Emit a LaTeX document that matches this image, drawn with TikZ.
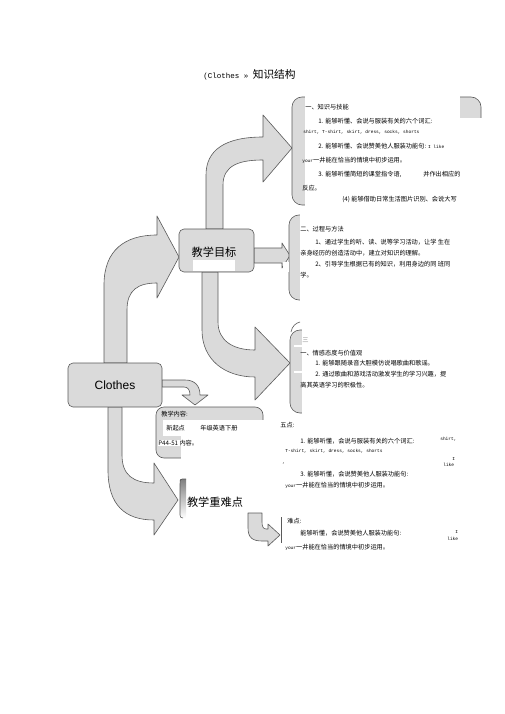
\documentclass[tikz,border=0pt]{standalone}
\usepackage{fontspec}
\setmainfont{Liberation Sans}
\newfontfamily\cjk{Noto Sans CJK SC}
\newfontfamily\mono{Liberation Mono}
\definecolor{shade}{HTML}{DADADA}
\definecolor{edge}{HTML}{5A5A5A}
\newcommand{\en}[1]{{\mono\fontsize{4.5}{5}\selectfont #1}}

\begin{document}
\begin{tikzpicture}[x=1pt, y=-1pt, line width=0.6pt,
  blockarrow/.style = {draw=edge, fill=shade, line join=round},
  panel/.style = {draw=edge, fill=shade, rounded corners=10pt},
  mainbox/.style = {draw=edge, fill=shade, rounded corners=5pt, inner sep=0pt},
  cover/.style = {fill=white},
  small/.style = {inner sep=0pt, anchor=west, font=\cjk\fontsize{6.2}{7}\selectfont},
  eng/.style = {inner sep=0pt, anchor=west, font=\mono\fontsize{4.5}{5}\selectfont},
  big/.style = {font=\cjk\fontsize{11.2}{12}\selectfont}]
\useasboundingbox (0,0) rectangle (505,714);

% title
\node[inner sep=0pt, anchor=west] (title) at (203,75) {{\mono\fontsize{7.5}{8}\selectfont (Clothes » }{\cjk\fontsize{10.7}{11}\selectfont 知识结构}};

% block arrows
\draw[blockarrow] (104,363) -- (104,285) .. controls (104,250) and (125,235) .. (157,235) -- (157,216) -- (179,257) -- (157,298) -- (157,283) .. controls (138,283) and (127,290) .. (127,310) -- (127,363) -- cycle;
\draw[blockarrow] (206,229) -- (206,175) .. controls (206,150) and (225,137) .. (263,137) -- (263,115) -- (292,148) -- (263,182) -- (263,160) .. controls (240,160) and (223,165) .. (223,185) -- (223,229) -- cycle;
\draw[blockarrow] (254,248) -- (282,248) -- (282,243) -- (290,255.5) -- (282,268) -- (282,263) -- (254,263) -- cycle;
\draw[blockarrow] (202,272) -- (202,330) .. controls (202,360) and (225,377) .. (255,377) -- (255,400) -- (290,363) -- (255,327) -- (255,350) .. controls (232,350) and (218,340) .. (218,322) -- (218,272) -- cycle;
\draw[blockarrow] (162,380) -- (185,380) .. controls (195,380) and (200,386) .. (200,395) -- (208,395) -- (195,405) -- (182,395) -- (190,395) .. controls (190,390) and (188,387) .. (184,387) -- (162,387) -- cycle;
\draw[blockarrow] (108,407) -- (108,470) .. controls (108,505) and (125,520) .. (154,520) -- (154,535) -- (178,500) -- (154,463) -- (154,483) .. controls (133,483) and (122,475) .. (122,455) -- (122,407) -- cycle;
\draw[blockarrow] (248,513) -- (248,528) .. controls (248,538) and (253,541) .. (262,541) -- (268,541) -- (268,546) -- (280,535) -- (268,524) -- (268,529) -- (266,529) .. controls (263,529) and (262,526) .. (262,522) -- (262,513) -- cycle;

% main boxes
\node[mainbox, minimum width=94pt, minimum height=44pt] (clothes) at (115,385) {};
\node[font=\fontsize{12}{13}\selectfont] (clothestext) at (clothes) {Clothes};
\node[mainbox, minimum width=75pt, minimum height=43pt] (goals) at (216.5,250.5) {};
\fill[cover] (193,260) rectangle (235,271);
\node[big] (goalstext) at (214,252) {教学目标};

% knowledge panel
\draw[panel] (292,97) rectangle (481,205);
\fill[cover] (305,94) rectangle (460,212);
\fill[cover] (460,118) rectangle (485,212);
\node[small] (k0) at (305,107) {一、知识与技能};
\node[small] (k1) at (318,121) {1. 能够听懂、会说与服装有关的六个词汇:};
\node[eng] (k2) at (303,132) {shirt, T-shirt, skirt, dress, socks, shorts};
\node[small] (k3) at (318,146) {2. 能够听懂、会说赞美他人服装功能句: \en{I like}};
\node[small] (k4) at (302,160) {\en{your}一井能在恰当的情境中初步运用。};
\node[small] (k5) at (318,174) {3. 能够听懂简短的课堂指令语,};
\node[small] (k5b) at (423,174) {并作出相应的};
\node[small] (k6) at (302,188) {反应。};
\node[small] (k7) at (342,199) {(4) 能够借助日常生活图片识别、会说大写};

% method panel
\draw[panel] (289,215) rectangle (470,300);
\fill[cover] (300,212) rectangle (475,305);
\fill[cover] (283,262) rectangle (289,272);
\node[small] (m0) at (300,229) {二、过程与方法};
\node[small] (m1) at (315,242) {1、通过学生的听、读、说等学习活动，让学 生在};
\node[small] (m2) at (300,253) {亲身经历的创造活动中，建立对知识的理解。};
\node[small] (m3) at (315,264) {2、引导学生根据已有的知识，利用身边的同 班同};
\node[small] (m4) at (300,275) {学。};

% attitude panel
\draw[edge] (291,332) .. controls (292,326) and (296,323) .. (300,322);
\draw[panel] (290,330) rectangle (470,413);
\fill[cover] (302,327) rectangle (475,418);
\fill[cover] (294,345) rectangle (302,347);
\fill[cover] (294,371) rectangle (302,373);
\node[small, text=black!45] (a0) at (302,340) {三};
\node[small] (a1) at (300,353) {一、情感态度与价值观};
\node[small] (a2) at (315,363) {1. 能够跟随录音大胆模仿说唱歌曲和歌谣。};
\node[small] (a3) at (315,374) {2. 通过歌曲和游戏活动激发学生的学习兴趣，提};
\node[small] (a4) at (300,385) {高其英语学习的积极性。};

% content panel
\draw[panel, rounded corners=8pt] (156,407) rectangle (263,458);
\fill[cover] (163,420) rectangle (266,436);
\fill[cover] (181,436) rectangle (266,462);
\node[small] (c0) at (161,414) {教学内容:};
\node[small] (c1) at (166,428) {新起点};
\node[small] (c2) at (200,428) {年级英语下册};
\node[small, fill=white] (c3) at (158,443) {P44-51 内容。};

% key and difficult points
\fill[shade] (180,479) rectangle (186,518);
\draw[edge] (186,479) -- (182,479) .. controls (180,479) and (180,481) .. (180,484) -- (180,515) .. controls (180,517) and (181,518) .. (183,518);
\node[big] (keytext) at (215,502) {教学重难点};
\node[small] (p0) at (280,425) {五点:};
\node[small] (p1) at (300,441) {1. 能够听懂，会说与服装有关的六个词汇:};
\node[eng] (p1b) at (440,439) {shirt,};
\node[eng] (p2) at (285,451) {T-shirt, skirt, dress, socks, shorts};
\node[eng] (p2a) at (452,459) {I};
\node[eng] (p2b) at (443,465) {like};
\node[eng] (p2c) at (282,464) {,};
\node[small] (p3) at (300,474) {3. 能够听懂，会说赞美他人服装功能句:};
\node[small] (p4) at (285,485) {\en{your}一井能在恰当的情境中初步运用。};
\draw[edge, line width=0.5pt] (281,517) -- (281,543);
\node[small] (d0) at (287,521) {难点:};
\node[small] (d1) at (300,533) {能够听懂，会说赞美他人服装功能句:};
\node[eng] (d1a) at (455,532) {I};
\node[eng] (d1b) at (447,539) {like};
\node[small] (d2) at (285,547) {\en{your}一井能在恰当的情境中初步运用。};
\end{tikzpicture}
\end{document}
